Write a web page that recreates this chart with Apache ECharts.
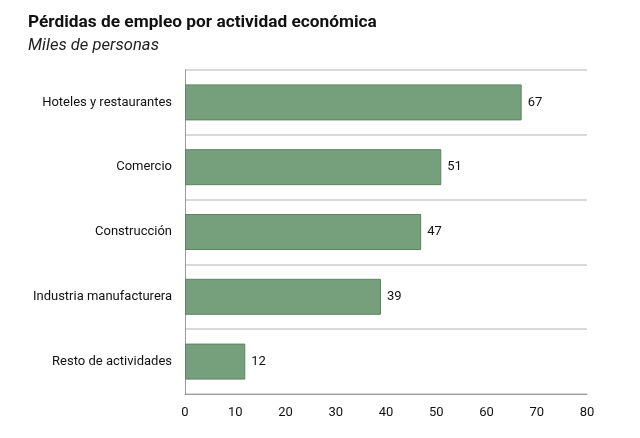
<!DOCTYPE html>
<html><head><meta charset="utf-8">
<script src="https://cdn.jsdelivr.net/npm/echarts@6/dist/echarts.min.js"></script>
<style>html,body{margin:0;padding:0;background:#fff}#c{width:640px;height:438px}</style>
</head><body><div id="c"></div>
<script>
const categories = ["Hoteles y restaurantes","Comercio","Construcción","Industria manufacturera","Resto de actividades"];
const values = [67, 51, 47, 39, 12];
const xTicks = [0,10,20,30,40,50,60,70,80];
const chart = echarts.init(document.getElementById('c'));
chart.setOption({
  animation:false,
  title:{text:'Pérdidas de empleo por actividad económica', subtext:'Miles de personas', left:23, top:9, itemGap:6,
    textStyle:{fontFamily:'Roboto', fontSize:17.3, fontWeight:'bold', color:'#111'},
    subtextStyle:{fontFamily:'Roboto', fontSize:16.6, fontStyle:'italic', color:'#222'}},
  grid:{left:185, right:53, top:70, bottom:44, containLabel:false},
  xAxis:{type:'value', min:0, max:80, interval:10,
    axisLine:{show:true, lineStyle:{color:'#999', width:1}}, axisTick:{show:false},
    splitLine:{show:false},
    axisLabel:{color:'#111', fontFamily:'Roboto', fontSize:13, margin:12,
      formatter:v=>xTicks.includes(v)?String(v):''}},
  yAxis:{type:'category', data:categories, inverse:true,
    axisLine:{show:true, lineStyle:{color:'#999'}}, axisTick:{show:false},
    splitLine:{show:true, lineStyle:{color:'#ccc', width:1.5}},
    axisLabel:{color:'#111', fontFamily:'Roboto', fontSize:13, margin:13}},
  series:[{type:'bar', data:values, barWidth:36,
    itemStyle:{color:'#76a07c', borderColor:'#5e8464', borderWidth:1},
    label:{show:true, position:'right', distance:6, color:'#111', fontFamily:'Roboto', fontSize:13}}]
});
</script></body></html>
